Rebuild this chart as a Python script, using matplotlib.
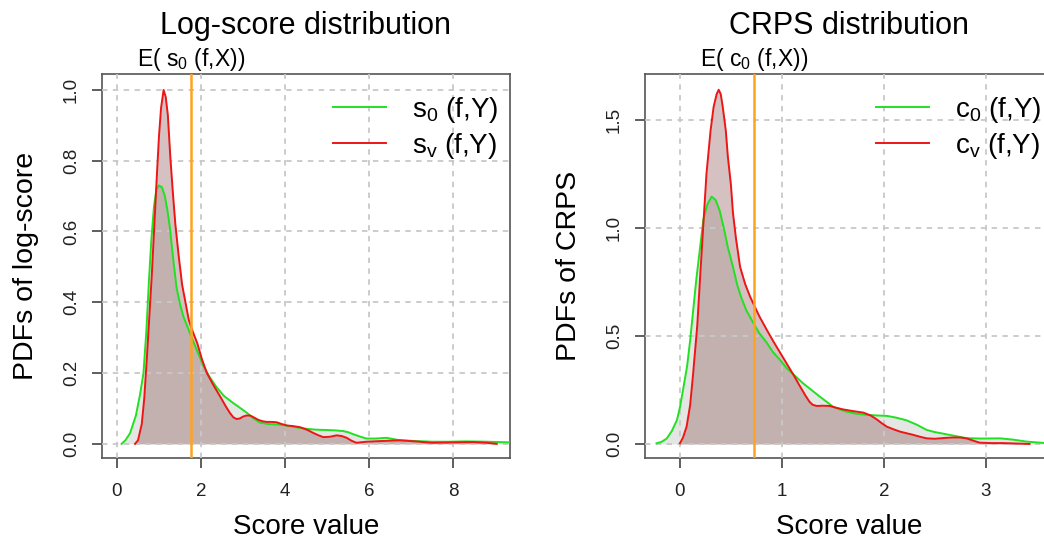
import numpy as np
import matplotlib
matplotlib.use("Agg")
import matplotlib.pyplot as plt
from matplotlib.transforms import blended_transform_factory

plt.rcParams['font.family'] = ['Liberation Sans', 'DejaVu Sans']
plt.rcParams['mathtext.fontset'] = 'custom'
plt.rcParams['mathtext.rm'] = 'Liberation Sans'

# Log-score densities
log_x_s0 = [0.11, 0.2, 0.31, 0.45, 0.55, 0.63, 0.7, 0.76, 0.82, 0.88, 0.94, 1.0, 1.07, 1.14, 1.2, 1.26,
            1.34, 1.42, 1.5, 1.58, 1.68, 1.78, 1.9, 2.06, 2.2, 2.37, 2.55, 2.77, 2.95, 3.1, 3.25, 3.4,
            3.6, 3.8, 3.96, 4.15, 4.35, 4.55, 4.75, 5.0, 5.2, 5.39, 5.5, 5.63, 5.8, 5.94, 6.15, 6.42,
            6.6, 6.74, 7.1, 7.5, 7.9, 8.3, 8.8, 9.4]
log_d_s0 = [0.0, 0.01, 0.03, 0.08, 0.14, 0.2, 0.32, 0.46, 0.58, 0.67, 0.72, 0.73, 0.725, 0.70, 0.66, 0.61,
            0.52, 0.44, 0.395, 0.36, 0.33, 0.30, 0.265, 0.22, 0.19, 0.16, 0.135, 0.115, 0.10, 0.087, 0.072, 0.06,
            0.056, 0.055, 0.053, 0.049, 0.045, 0.042, 0.04, 0.039, 0.038, 0.036, 0.033, 0.027, 0.02, 0.015, 0.015, 0.017,
            0.013, 0.01, 0.008, 0.006, 0.006, 0.007, 0.006, 0.004]
log_x_sv = [0.43, 0.5, 0.59, 0.65, 0.71, 0.77, 0.83, 0.89, 0.95, 1.0, 1.05, 1.11, 1.16, 1.21, 1.27, 1.33,
            1.39, 1.47, 1.55, 1.63, 1.71, 1.81, 1.91, 2.02, 2.14, 2.3, 2.46, 2.58, 2.69, 2.77, 2.85, 2.93,
            3.0, 3.08, 3.17, 3.27, 3.36, 3.46, 3.56, 3.68, 3.8, 3.92, 4.04, 4.2, 4.36, 4.52, 4.67, 4.8,
            4.91, 5.07, 5.23, 5.35, 5.47, 5.58, 5.7, 5.94, 6.3, 6.74, 7.1, 7.5, 8.0, 8.48, 8.8, 9.04]
log_d_sv = [0.0, 0.01, 0.056, 0.13, 0.24, 0.36, 0.48, 0.62, 0.76, 0.87, 0.95, 1.0, 0.98, 0.93, 0.81, 0.71,
            0.62, 0.53, 0.45, 0.40, 0.35, 0.315, 0.285, 0.24, 0.2, 0.165, 0.133, 0.108, 0.087, 0.075, 0.07, 0.072,
            0.077, 0.08, 0.08, 0.074, 0.068, 0.064, 0.062, 0.062, 0.061, 0.056, 0.052, 0.05, 0.047, 0.04, 0.031, 0.024,
            0.019, 0.02, 0.024, 0.022, 0.017, 0.009, 0.003, 0.006, 0.008, 0.01, 0.007, 0.003, 0.004, 0.005, 0.003, 0.0]
e_s0 = 1.76

# CRPS densities
crps_x_c0 = [-0.23, -0.18, -0.13, -0.08, -0.03, 0.0, 0.03, 0.07, 0.1, 0.13, 0.16, 0.2, 0.23, 0.27, 0.31, 0.35,
             0.39, 0.43, 0.47, 0.52, 0.56, 0.6, 0.65, 0.72, 0.78, 0.85, 0.91, 0.98, 1.05, 1.13, 1.21, 1.29,
             1.37, 1.44, 1.5, 1.57, 1.63, 1.73, 1.83, 1.93, 2.03, 2.12, 2.22, 2.32, 2.42, 2.5, 2.58, 2.7,
             2.81, 2.95, 3.14, 3.27, 3.4, 3.56, 3.7]
crps_d_c0 = [0.003, 0.01, 0.025, 0.06, 0.11, 0.17, 0.25, 0.36, 0.48, 0.62, 0.76, 0.92, 1.04, 1.11, 1.145, 1.13,
             1.08, 1.0, 0.91, 0.82, 0.74, 0.68, 0.62, 0.56, 0.512, 0.47, 0.427, 0.39, 0.35, 0.315, 0.28, 0.25,
             0.22, 0.195, 0.173, 0.16, 0.15, 0.14, 0.135, 0.132, 0.13, 0.122, 0.11, 0.09, 0.065, 0.055, 0.048, 0.037,
             0.027, 0.025, 0.026, 0.02, 0.011, 0.005, 0.002]
crps_x_cv = [0.0, 0.03, 0.065, 0.1, 0.13, 0.17, 0.2, 0.23, 0.26, 0.3, 0.33, 0.36, 0.38, 0.4, 0.42, 0.45,
             0.47, 0.5, 0.52, 0.55, 0.59, 0.64, 0.69, 0.73, 0.78, 0.85, 0.91, 0.98, 1.05, 1.12, 1.18, 1.23,
             1.27, 1.3, 1.34, 1.4, 1.47, 1.53, 1.6, 1.7, 1.8, 1.87, 1.93, 1.98, 2.03, 2.1, 2.16, 2.22,
             2.29, 2.35, 2.42, 2.5, 2.6, 2.68, 2.75, 2.81, 2.88, 2.94, 3.05, 3.17, 3.3, 3.43]
crps_d_cv = [0.003, 0.03, 0.08, 0.18, 0.33, 0.55, 0.79, 1.02, 1.25, 1.45, 1.56, 1.62, 1.64, 1.62, 1.56, 1.45,
             1.33, 1.2, 1.07, 0.95, 0.82, 0.74, 0.68, 0.64, 0.59, 0.53, 0.48, 0.425, 0.37, 0.315, 0.265, 0.225,
             0.196, 0.182, 0.176, 0.177, 0.176, 0.168, 0.16, 0.152, 0.145, 0.132, 0.114, 0.096, 0.08, 0.067, 0.057, 0.05,
             0.042, 0.034, 0.026, 0.024, 0.028, 0.03, 0.03, 0.026, 0.015, 0.006, 0.004, 0.004, 0.002, 0.0]
e_c0 = 0.73

GREEN = '#22e022'
RED = '#ee1515'
ORANGE = '#ffa31f'
GRIDC = '#c8c8c8'

fig = plt.figure(figsize=(10.44, 5.44), dpi=100)


def panel(rect, xa, ya, xb, yb, e_val, xlim, ylim, xticks, yticks,
          title, ylabel, etxt, lab_a, lab_b):
    ax = fig.add_axes(rect)
    ax.fill_between(xa, ya, 0, color='#e3e6e3', lw=0, zorder=1)
    ax.fill_between(xb, yb, 0, color=(0.55, 0.33, 0.33, 0.36), lw=0, zorder=2)
    for t in xticks:
        ax.axvline(t, color=GRIDC, lw=1.3, ls=(0, (3, 3)), zorder=3)
    for t in yticks:
        ax.axhline(t, color=GRIDC, lw=1.3, ls=(0, (3, 3)), zorder=3)
    ax.plot(xa, ya, color=GREEN, lw=1.4, zorder=4, label=lab_a)
    ax.plot(xb, yb, color=RED, lw=1.4, zorder=5, label=lab_b)
    ax.axvline(e_val, color=ORANGE, lw=1.8, zorder=6)
    ax.set_xlim(*xlim)
    ax.set_ylim(*ylim)
    ax.set_xticks(xticks)
    ax.set_yticks(yticks)
    ax.set_yticklabels([f"{v:.1f}" for v in yticks], rotation=90, va='center')
    ax.tick_params(length=7, width=1.1, color='#333333', labelsize=13.5,
                   labelcolor='#222222')
    ax.tick_params(axis='x', pad=11)
    ax.tick_params(axis='y', pad=9)
    for s in ax.spines.values():
        s.set_color('#555555')
        s.set_linewidth(1.2)
    ax.set_title(title, fontsize=22, pad=29)
    ax.set_ylabel(ylabel, fontsize=20.5, labelpad=17)
    ax.set_xlabel('Score value', fontsize=20, labelpad=10)
    trans = blended_transform_factory(ax.transData, ax.transAxes)
    ax.text(e_val, 1.038, etxt, transform=trans, ha='center', va='center', fontsize=16.5)
    ax.legend(loc='upper left', bbox_to_anchor=(0.566, 0.945), frameon=False,
              fontsize=20, handlelength=1.9, handletextpad=0.95, labelspacing=0.2,
              borderpad=0, borderaxespad=0)
    return ax


panel([102 / 1044, 86 / 544, 408 / 1044, 384 / 544],
      log_x_s0, log_d_s0, log_x_sv, log_d_sv, e_s0,
      (-0.357, 9.357), (-0.04, 1.045), [0, 2, 4, 6, 8], [0.0, 0.2, 0.4, 0.6, 0.8, 1.0],
      'Log-score distribution', 'PDFs of log-score', r'E( $\mathregular{s_0}$ (f,X))',
      r'$\mathregular{s_0}$ (f,Y)', r'$\mathregular{s_v}$ (f,Y)')

panel([645 / 1044, 86 / 544, 408 / 1044, 384 / 544],
      crps_x_c0, crps_d_c0, crps_x_cv, crps_d_cv, e_c0,
      (-0.343, 3.66), (-0.065, 1.713), [0, 1, 2, 3], [0.0, 0.5, 1.0, 1.5],
      'CRPS distribution', 'PDFs of CRPS', r'E( $\mathregular{c_0}$ (f,X))',
      r'$\mathregular{c_0}$ (f,Y)', r'$\mathregular{c_v}$ (f,Y)')

fig.savefig('out.png', dpi=100)
